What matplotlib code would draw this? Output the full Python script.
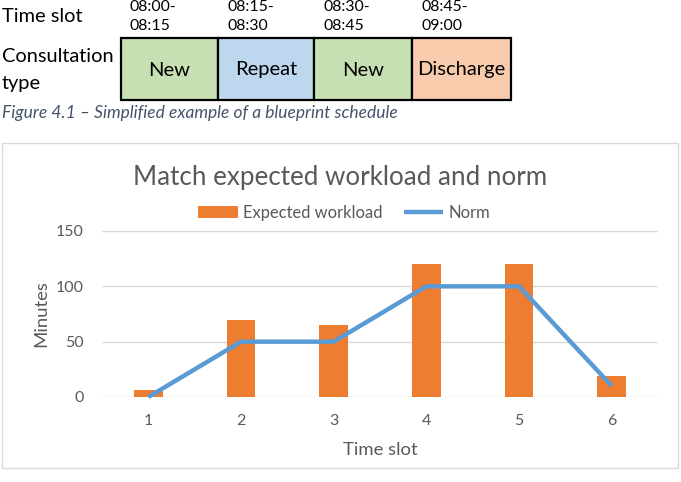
import matplotlib
matplotlib.use("Agg")
import matplotlib.pyplot as plt
from matplotlib.patches import Rectangle

# ---- data ----
slot_times_start = ["08:00-", "08:15-", "08:30-", "08:45-"]
slot_times_end = ["08:15", "08:30", "08:45", "09:00"]
consult_types = ["New", "Repeat", "New", "Discharge"]
consult_colors = ["#C6E0B4", "#BDD7EE", "#C6E0B4", "#F8CBAD"]

time_slots = [1, 2, 3, 4, 5, 6]
expected_workload = [6, 70, 65, 120, 120, 19]
norm = [0, 50, 50, 100, 100, 10]
y_ticks = [0, 50, 100, 150]

W, H = 681, 482
FONT = ["Lato", "DejaVu Sans"]
plt.rcParams['font.family'] = FONT

fig = plt.figure(figsize=(W / 100, H / 100), dpi=100)


def fx(px):
    return px / W


def fy(py):
    return 1 - py / H


# ---- top table ----
fig.text(fx(2), fy(17), "Time slot", fontsize=14.4, va="center", ha="left", color="black")
fig.text(fx(2), fy(56), "Consultation", fontsize=14.4, va="center", ha="left", color="black")
fig.text(fx(2), fy(83), "type", fontsize=14.4, va="center", ha="left", color="black")

cell_left = [121, 218, 314, 412]
cell_right = [218, 314, 412, 511]
for i in range(4):
    fig.text(fx(cell_left[i] + 9), fy(7), slot_times_start[i], fontsize=11.4, va="center", ha="left")
    fig.text(fx(cell_left[i] + 9), fy(26), slot_times_end[i], fontsize=11.4, va="center", ha="left")
    fig.patches.append(Rectangle((fx(cell_left[i]), fy(100)),
                                 fx(cell_right[i] - cell_left[i]), 62 / H,
                                 transform=fig.transFigure, facecolor=consult_colors[i],
                                 edgecolor="black", lw=1.6))
    fig.text(fx((cell_left[i] + cell_right[i]) / 2), fy(70), consult_types[i],
             fontsize=14.5, va="center", ha="center")

fig.text(fx(2), fy(113), "Figure 4.1 \u2013 Simplified example of a blueprint schedule",
         fontsize=12.5, style="italic", color="#44546A", va="center", ha="left")

# ---- chart box ----
fig.patches.append(Rectangle((fx(2), fy(468)), fx(676), 325 / H, transform=fig.transFigure,
                             facecolor="none", edgecolor="#D9D9D9", lw=1, zorder=-1))

ax = fig.add_axes([fx(102), fy(397), fx(556), 166 / H])
bars = ax.bar(time_slots, expected_workload, width=0.31, color="#ED7D31", zorder=2,
              label="Expected workload")
line, = ax.plot(time_slots, norm, color="#5B9BD5", lw=3.2, zorder=3, clip_on=False,
                label="Norm", solid_capstyle="butt")
ax.set_xlim(0.5, 6.5)
ax.set_ylim(0, 150)
ax.set_yticks(y_ticks)
ax.set_xticks(time_slots)
ax.grid(axis="y", color="#D9D9D9", lw=1, zorder=0)
ax.set_axisbelow(True)
for s in ax.spines.values():
    s.set_visible(False)
ax.tick_params(length=0, labelsize=11.5, colors="#595959")
ax.tick_params(axis="y", pad=13)
ax.tick_params(axis="x", pad=12)
ax.set_facecolor("none")
ax.set_xlabel("Time slot", fontsize=13.3, color="#595959", labelpad=10)
ax.set_ylabel("Minutes", fontsize=13.3, color="#595959", labelpad=5)

fig.text(fx(340), fy(177), "Match expected workload and norm", fontsize=18.7,
         color="#595959", ha="center", va="center")

leg = ax.legend([bars, line], ["Expected workload", "Norm"], loc="center",
                bbox_to_anchor=(fx(344), fy(213)), bbox_transform=fig.transFigure,
                ncol=2, frameon=False, fontsize=11.9, handlelength=2.4, columnspacing=1.3,
                handletextpad=0.3, borderpad=0)
for t in leg.get_texts():
    t.set_color("#595959")

fig.savefig("out.png", dpi=100)
